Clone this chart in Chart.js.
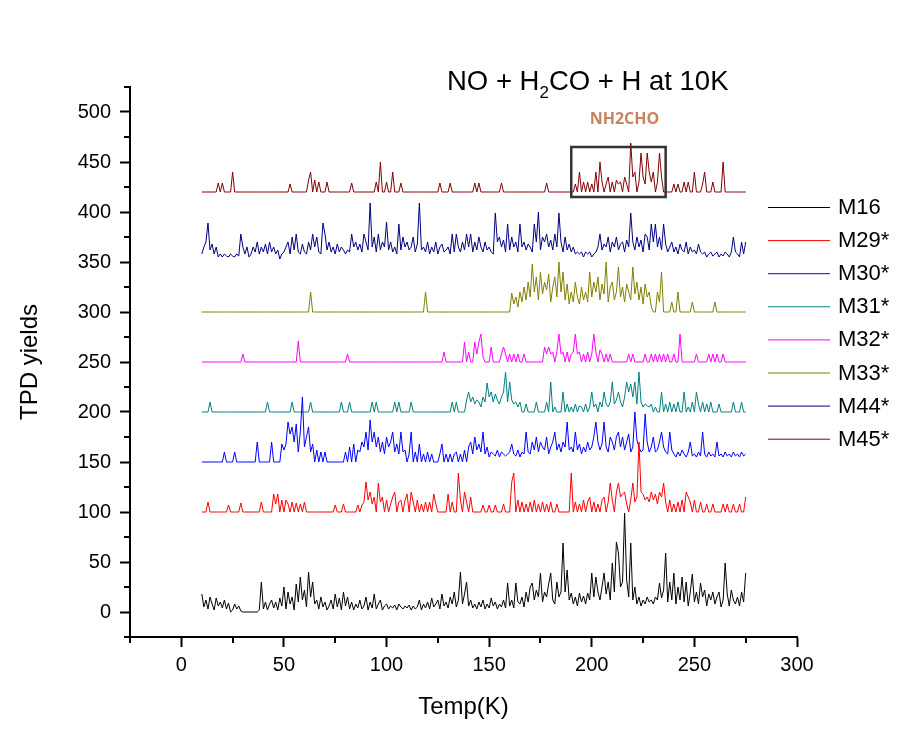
<!DOCTYPE html>
<html lang="en">
<head>
<meta charset="UTF-8">
<title>TPD yields</title>
<script src="https://cdn.jsdelivr.net/npm/chart.js@4/dist/chart.umd.min.js"></script>
<style>
  html, body { margin: 0; padding: 0; background: #fff; }
  #wrap { width: 897px; height: 735px; }
</style>
</head>
<body>
<div id="wrap"><canvas id="tpd"></canvas></div>
<script>
// temperature grid of the traces: 10 K .. 275 K, 1 K steps
const tStart = 10;
const tStep = 1;

const labels = ['M16', 'M29*', 'M30*', 'M31*', 'M32*', 'M33*', 'M44*', 'M45*'];
const colors = ['#000000', '#ff0000', '#0000ff', '#008080', '#ff00ff', '#808000', '#000080', '#800000'];
// vertical offset of each trace (stacked plot)
const offsets = [0, 100, 150, 200, 250, 300, 350, 420];

const xTicks = [0, 50, 100, 150, 200, 250, 300];
const yTicks = [0, 50, 100, 150, 200, 250, 300, 350, 400, 450, 500];

// heights above each trace's baseline, one value per kelvin (T = 10 ... 275)
const m16 = [
  18,5,12,3,15,8,2,14,6,10,
  4,12,3,9,0,2,8,3,6,1,
  0,0,0,0,0,0,0,0,2,30,
  3,10,2,8,12,4,10,2,14,6,
  25,3,20,8,15,2,28,10,35,12,
  22,5,40,15,30,8,12,3,15,5,
  10,2,6,12,3,18,5,14,2,20,
  6,15,3,10,2,8,4,12,3,6,
  15,2,10,4,18,3,8,12,2,6,
  8,3,6,4,7,2,8,5,3,6,
  4,7,2,6,3,5,12,2,8,4,
  10,3,14,5,8,12,3,18,6,10,
  4,15,8,20,5,12,40,8,18,30,
  6,12,4,8,3,10,5,12,3,8,
  4,14,6,10,3,8,5,12,4,29,
  6,12,4,29,10,8,15,5,20,10,
  25,29,12,22,15,39,10,20,15,28,
  39,12,8,30,15,20,69,20,42,12,
  19,8,15,6,19,10,16,8,19,12,
  39,15,35,20,12,25,39,18,30,12,
  49,20,70,59,25,30,99,32,15,69,
  12,25,8,15,6,12,8,15,10,12,
  8,15,12,29,14,22,59,10,30,12,
  39,8,25,12,35,10,30,6,20,38,
  10,20,8,29,15,22,6,18,12,20,
  8,15,20,5,12,49,18,6,22,12,
  8,15,6,20,10,39
];
const m29 = [
  0,0,0,10,0,0,0,0,0,0,
  0,0,0,7,0,0,0,0,0,9,
  0,0,0,0,0,0,0,0,0,10,
  0,0,0,0,0,18,8,18,0,12,
  0,12,8,0,10,0,9,0,8,0,
  10,0,0,0,0,0,0,0,0,0,
  0,0,0,0,0,7,0,0,0,8,
  0,0,0,0,0,0,7,0,7,10,
  30,12,20,8,15,0,29,10,15,0,
  12,0,8,15,20,0,10,12,0,12,
  18,0,20,10,0,12,0,8,0,10,
  0,10,0,18,8,0,0,0,0,0,
  18,0,10,0,0,39,12,0,20,10,
  0,15,0,0,0,0,0,7,0,0,
  7,0,0,7,0,0,0,8,0,0,
  0,30,39,0,12,0,10,0,8,0,
  10,0,12,0,8,0,10,0,8,0,
  10,0,0,8,0,0,0,0,0,0,
  39,0,10,0,8,0,12,0,10,15,
  0,10,0,8,0,12,15,0,10,29,
  12,0,20,29,15,18,20,8,0,12,
  29,10,15,70,20,18,12,15,10,20,
  12,18,8,20,15,29,10,0,12,0,
  8,0,10,0,12,0,20,15,10,0,
  12,0,0,10,0,0,8,0,0,8,
  0,0,0,0,8,0,8,0,0,8,
  0,0,8,0,0,15
];
const m30 = [
  0,0,0,0,0,0,0,0,0,0,
  0,10,0,0,0,0,10,0,0,0,
  0,0,0,0,0,0,0,20,0,0,
  0,0,0,0,20,0,0,0,0,18,
  12,18,40,28,35,20,38,10,30,65,
  15,25,35,10,18,0,12,0,10,0,
  10,0,0,0,0,0,0,0,0,0,
  10,0,15,0,18,0,12,10,20,15,
  30,12,42,20,30,15,25,10,20,8,
  25,15,20,30,10,18,8,30,10,12,
  0,8,30,0,10,0,18,0,8,0,
  10,0,8,0,0,0,8,18,0,8,
  0,8,0,8,10,0,8,0,12,0,
  15,20,8,25,12,18,10,30,8,15,
  5,10,8,6,12,5,10,8,6,8,
  10,18,8,6,12,5,10,8,30,10,
  8,20,12,25,10,20,15,12,25,8,
  15,20,30,12,18,10,20,15,40,12,
  15,10,30,12,18,8,15,10,20,12,
  15,25,40,20,12,18,40,15,10,25,
  20,12,25,30,15,25,12,20,28,10,
  15,50,22,15,10,12,48,20,10,15,
  25,10,12,20,30,15,10,8,30,12,
  8,5,10,6,12,8,5,10,20,6,
  8,5,10,6,30,8,5,10,6,8,
  5,20,6,8,5,10,6,8,5,10,
  6,8,5,10,6,8
];
const m31 = [
  0,0,0,0,10,0,0,0,0,0,
  0,0,0,0,0,0,0,0,0,0,
  0,0,0,0,0,0,0,0,0,0,
  0,0,10,0,0,0,0,0,0,0,
  0,0,0,0,10,0,0,0,0,0,
  0,0,0,10,0,0,0,0,0,0,
  0,0,0,0,0,0,0,0,10,0,
  0,0,10,0,0,0,0,0,0,0,
  0,0,0,10,0,10,0,0,0,0,
  0,0,0,0,10,0,10,0,0,0,
  0,0,10,0,0,0,0,0,0,0,
  0,0,0,0,0,0,0,0,0,0,
  0,0,10,0,10,0,0,0,0,12,
  20,10,15,8,12,10,5,15,10,29,
  15,20,10,18,12,8,15,20,40,10,
  30,12,8,10,5,10,0,0,8,0,
  0,0,0,10,0,0,0,0,10,0,
  30,0,5,0,0,0,20,0,8,0,
  5,0,8,0,6,5,0,8,0,5,
  20,5,8,0,10,5,20,8,5,10,
  30,8,12,20,10,5,15,30,20,28,
  15,30,8,40,10,5,8,6,5,8,
  0,5,0,0,20,0,8,0,10,0,
  8,0,10,0,0,20,0,5,0,10,
  0,20,8,0,10,0,8,0,10,0,
  0,0,8,0,0,0,0,0,0,10,
  0,0,0,10,0,0
];
const m32 = [
  0,0,0,0,0,0,0,0,0,0,
  0,0,0,0,0,0,0,0,0,0,
  8,0,0,0,0,0,0,0,0,0,
  0,0,0,0,0,0,0,0,0,0,
  0,0,0,0,0,0,0,21,0,0,
  0,0,0,0,0,0,0,0,0,0,
  0,0,0,0,0,0,0,0,0,0,
  0,8,0,0,0,0,0,0,0,0,
  0,0,0,0,0,0,0,0,0,0,
  0,0,0,0,0,0,0,0,0,0,
  0,0,0,0,0,0,0,0,0,0,
  0,0,0,0,0,0,0,0,10,0,
  0,0,0,0,0,0,0,0,20,0,
  10,0,0,20,8,20,28,5,0,0,
  0,15,0,0,0,0,8,15,8,0,
  8,0,8,0,8,0,0,8,0,0,
  0,0,0,0,0,0,0,15,8,15,
  8,10,0,10,28,8,10,0,10,0,
  8,10,28,8,10,0,8,0,10,0,
  8,28,10,0,12,8,0,8,0,8,
  0,0,0,0,0,0,0,0,8,0,
  8,0,0,0,0,0,8,0,0,8,
  0,8,0,8,0,8,0,8,0,0,
  8,0,0,28,0,0,0,0,0,0,
  0,8,0,0,0,0,0,8,0,8,
  0,8,0,0,8,0,0,0,0,0,
  0,0,0,0,0,0
];
const m33 = [
  0,0,0,0,0,0,0,0,0,0,
  0,0,0,0,0,0,0,0,0,0,
  0,0,0,0,0,0,0,0,0,0,
  0,0,0,0,0,0,0,0,0,0,
  0,0,0,0,0,0,0,0,0,0,
  0,0,0,20,0,0,0,0,0,0,
  0,0,0,0,0,0,0,0,0,0,
  0,0,0,0,0,0,0,0,0,0,
  0,0,0,0,0,0,0,0,0,0,
  0,0,0,0,0,0,0,0,0,0,
  0,0,0,0,0,0,0,0,0,20,
  0,0,0,0,0,0,0,0,0,0,
  0,0,0,0,0,0,0,0,0,0,
  0,0,0,0,0,0,0,0,0,0,
  0,0,0,0,0,0,0,0,0,0,
  0,19,8,15,5,20,10,25,12,30,
  15,48,20,35,12,40,18,30,22,38,
  10,25,35,15,50,20,40,12,28,8,
  20,10,30,15,8,25,12,20,10,40,
  15,30,20,35,12,28,18,50,10,25,
  30,12,20,45,15,25,10,28,20,12,
  45,18,30,12,25,8,28,15,20,5,
  0,0,20,10,40,0,0,0,0,10,
  0,0,20,0,0,0,0,0,0,10,
  0,0,0,0,0,0,0,0,0,0,
  10,0,0,0,0,0,0,0,0,0,
  0,0,0,0,0,0
];
const m44 = [
  8,15,20,39,12,18,8,15,5,8,
  5,8,6,5,8,6,5,8,6,28,
  15,8,15,5,8,15,10,20,8,15,
  10,18,8,20,10,15,8,12,3,8,
  10,15,20,8,25,12,28,10,8,18,
  10,8,20,12,28,15,25,10,8,39,
  28,12,20,10,15,8,18,10,15,12,
  8,12,10,28,15,20,12,18,10,28,
  20,12,59,15,25,10,28,12,20,15,
  40,12,20,10,15,8,38,12,25,15,
  20,12,15,25,10,18,59,12,15,10,
  20,8,15,10,20,8,15,18,10,12,
  15,8,28,10,28,15,10,20,12,28,
  15,28,10,20,12,25,15,10,20,12,
  15,10,8,49,20,25,15,22,10,38,
  12,25,15,20,10,38,15,20,12,18,
  15,10,38,20,50,12,25,20,28,15,
  22,12,28,15,49,20,10,25,12,18,
  10,15,8,10,8,10,5,10,8,10,
  5,8,10,15,28,12,18,15,25,10,
  20,15,25,12,18,20,10,22,15,49,
  20,12,25,15,22,10,28,25,12,38,
  20,38,15,25,12,38,18,10,15,20,
  10,15,8,18,12,10,20,8,15,10,
  12,8,18,10,8,10,5,8,10,6,
  8,10,5,8,6,10,8,5,10,25,
  10,8,5,20,8,20
];
const m45 = [
  0,0,0,0,0,0,0,0,9,0,
  9,0,0,0,0,20,0,0,0,0,
  0,0,0,0,0,0,0,0,0,0,
  0,0,0,0,0,0,0,0,0,0,
  0,0,0,8,0,0,0,0,0,0,
  0,0,12,20,0,12,0,10,0,0,
  0,10,0,0,0,0,0,0,0,0,
  0,0,0,9,0,0,0,0,0,0,
  0,0,0,0,0,10,0,30,0,0,
  10,0,0,20,0,0,0,9,0,0,
  0,0,0,0,0,0,0,0,0,0,
  0,0,0,0,0,0,9,0,0,0,
  0,9,0,0,0,0,0,0,0,0,
  0,0,0,9,0,9,0,0,0,0,
  0,0,0,0,0,0,9,0,0,0,
  0,0,0,0,0,0,0,0,0,0,
  0,0,0,0,0,0,0,0,9,0,
  0,0,0,0,0,0,0,0,0,0,
  0,0,8,0,20,0,10,0,10,0,
  8,0,20,0,30,10,0,8,15,0,
  10,0,12,8,10,0,15,8,0,49,
  15,20,0,10,39,15,8,39,20,10,
  20,0,10,39,15,0,0,0,0,0,
  8,0,8,0,0,10,0,10,0,0,
  20,0,0,0,8,20,0,0,0,10,
  0,0,0,0,30,0,0,0,0,0,
  0,0,0,0,0,0
];
const series = [m16, m29, m30, m31, m32, m33, m44, m45];

// highlighted region (K, yield) around the NH2CHO peaks
const boxX = [190, 236];
const boxY = [415, 465];

const font = "'Liberation Sans', Arial, sans-serif";

const datasets = series.map((vals, k) => ({
  label: labels[k],
  data: vals.map((v, i) => ({ x: tStart + i * tStep, y: offsets[k] + v })),
  borderColor: colors[k],
  borderWidth: 1,
  pointRadius: 0,
  tension: 0,
  fill: false
}));

const extras = {
  id: 'extras',
  afterDraw(chart) {
    const { ctx, scales: { x, y } } = chart;
    ctx.save();
    // minor ticks
    ctx.strokeStyle = '#000';
    ctx.lineWidth = 2;
    ctx.beginPath();
    for (let v = -25; v <= 300; v += 50) {
      const px = Math.round(x.getPixelForValue(v));
      ctx.moveTo(px, y.bottom);
      ctx.lineTo(px, y.bottom + 6);
    }
    for (let v = -25; v <= 525; v += 50) {
      const py = Math.round(y.getPixelForValue(v));
      ctx.moveTo(x.left, py);
      ctx.lineTo(x.left - 6, py);
    }
    ctx.stroke();

    // NH2CHO box
    ctx.strokeStyle = '#333';
    ctx.lineWidth = 2.5;
    const bx0 = x.getPixelForValue(boxX[0]), bx1 = x.getPixelForValue(boxX[1]);
    const by0 = y.getPixelForValue(boxY[1]), by1 = y.getPixelForValue(boxY[0]);
    ctx.strokeRect(bx0, by0, bx1 - bx0, by1 - by0);
    ctx.fillStyle = '#c8825c';
    ctx.font = "bold 16px 'Open Sans', sans-serif";
    ctx.textAlign = 'center';
    ctx.textBaseline = 'middle';
    ctx.fillText('NH2CHO', (bx0 + bx1) / 2 + 6, by0 - 28);

    // title with subscript
    ctx.fillStyle = '#000';
    ctx.textAlign = 'left';
    ctx.textBaseline = 'alphabetic';
    const big = '27.5px ' + font, small = '17px ' + font;
    const parts = [['NO + H', big, 0], ['2', small, 8], ['CO + H at 10K', big, 0]];
    let tx = 447;
    const ty = 90;
    parts.forEach(([s, f, dy]) => {
      ctx.font = f;
      ctx.fillText(s, tx, ty + dy);
      tx += ctx.measureText(s).width;
    });

    // legend
    ctx.font = '22px ' + font;
    ctx.textBaseline = 'middle';
    chart.data.datasets.forEach((ds, k) => {
      const ly = 207 + k * 33.1;
      ctx.strokeStyle = ds.borderColor;
      ctx.lineWidth = 1;
      ctx.beginPath();
      ctx.moveTo(768, ly + 0.5);
      ctx.lineTo(830, ly + 0.5);
      ctx.stroke();
      ctx.fillStyle = '#000';
      ctx.fillText(ds.label, 838, ly + 1);
    });
    ctx.restore();
  }
};

const setTicks = list => s => { s.ticks = list.map(v => ({ value: v })); };

new Chart(document.getElementById('tpd'), {
  type: 'line',
  data: { datasets },
  options: {
    responsive: true,
    maintainAspectRatio: false,
    animation: false,
    events: [],
    layout: { padding: { left: 0, top: 87, right: 100, bottom: 0 } },
    plugins: { legend: { display: false }, tooltip: { enabled: false } },
    scales: {
      x: {
        type: 'linear',
        min: -25,
        max: 300,
        afterBuildTicks: setTicks(xTicks),
        afterFit: s => { s.height = 98; },
        ticks: {
          autoSkip: false,
          maxRotation: 0,
          padding: 6,
          color: '#000',
          font: { family: font, size: 20 }
        },
        grid: { drawOnChartArea: false, drawTicks: true, tickLength: 10, tickWidth: 2, tickColor: '#000' },
        border: { display: true, color: '#000', width: 2 },
        title: {
          display: true,
          text: 'Temp(K)',
          color: '#000',
          font: { family: font, size: 24 },
          padding: { top: 0, bottom: 13 }
        }
      },
      y: {
        type: 'linear',
        min: -25,
        max: 525,
        afterBuildTicks: setTicks(yTicks),
        afterFit: s => { s.width = 130; },
        ticks: {
          autoSkip: false,
          padding: 9,
          color: '#000',
          font: { family: font, size: 20 }
        },
        grid: { drawOnChartArea: false, drawTicks: true, tickLength: 10, tickWidth: 2, tickColor: '#000' },
        border: { display: true, color: '#000', width: 2 },
        title: {
          display: true,
          text: 'TPD yields',
          color: '#000',
          font: { family: font, size: 24 },
          padding: { top: 16, bottom: 0 }
        }
      }
    }
  },
  plugins: [extras]
});
</script>
</body>
</html>
